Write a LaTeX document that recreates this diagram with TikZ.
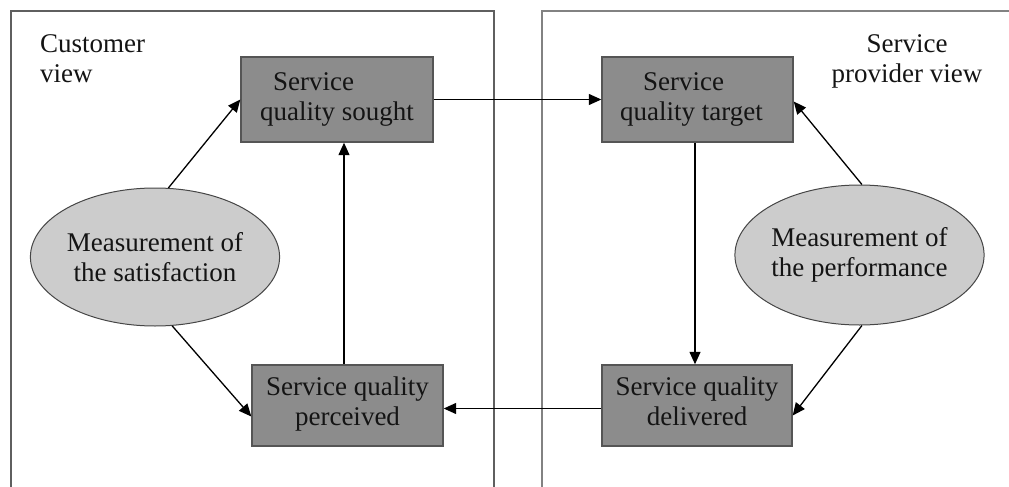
\documentclass[tikz,border=0pt]{standalone}
\usepackage{fontspec}
\setmainfont{Liberation Serif}
\usetikzlibrary{arrows.meta,shapes.geometric}
\definecolor{boxfill}{RGB}{140,140,140}
\definecolor{boxline}{RGB}{85,85,85}
\definecolor{ellfill}{RGB}{204,204,204}
\definecolor{ellline}{RGB}{70,70,70}
\definecolor{txt}{RGB}{20,20,20}
\begin{document}
\begin{tikzpicture}[x=1pt,y=-1pt,
  every node/.style={font=\fontsize{27}{30}\selectfont, text=txt},
  qbox/.style={draw=boxline, line width=1.4pt, fill=boxfill, inner sep=0pt},
  mell/.style={ellipse, draw=ellline, line width=1pt, fill=ellfill, inner sep=0pt, align=center},
  arr/.style={line width=1.3pt, -{Triangle[length=12.5pt,width=11pt]}},
  panel/.style={line width=1.2pt}]
\useasboundingbox (0,0) rectangle (1009,487);
% panels
\draw[panel, draw={rgb,255:red,95;green,95;blue,95}] (11,487) -- (11,11) -- (494,11) -- (494,487);
\draw[panel, draw={rgb,255:red,130;green,130;blue,130}] (542,487) -- (542,11) -- (1012,11);
% panel labels
\node[anchor=north west, inner sep=0pt, align=left] (cust) at (40,34.5) {Customer\\view};
\node[anchor=north, inner sep=0pt, align=center] (prov) at (907,34.5) {Service\\provider view};
% boxes
\node[qbox, minimum width=192pt, minimum height=85pt, align=left] (sought) at (337,99.5)
  {\hspace*{13pt}Service\\quality sought};
\node[qbox, minimum width=191pt, minimum height=85pt, align=left] (target) at (697.5,99.5)
  {\hspace*{23pt}Service\\quality target\hspace*{12pt}};
\node[qbox, minimum width=191pt, minimum height=81pt, align=center] (perceived) at (347.5,405.5)
  {Service quality\\perceived\rule[-8pt]{0pt}{0pt}};
\node[qbox, minimum width=190pt, minimum height=81pt, align=center] (delivered) at (697,405.5)
  {Service quality\\delivered\rule[-8pt]{0pt}{0pt}};
% ellipses
\node[mell, minimum width=214pt, minimum height=138pt] (lell) at (155,257)
  {Measurement of\\the satisfaction};
\node[mell, minimum width=235pt, minimum height=140pt] (rell) at (859.5,255)
  {Measurement of\\the performance};
% connectors
\draw[arr] (lell.79) -- (sought.west);
\draw[arr] (lell.-76) -- ([yshift=-11pt]perceived.west);
\draw[arr] (perceived.north -| 344,0) -- (sought.south -| 344,0);
\draw[arr] (sought.east) -- (target.west);
\draw[arr] (target.south -| 695,0) -- (delivered.north -| 695,0);
\draw[arr] ([yshift=-3pt]delivered.west) -- ([yshift=-3pt]perceived.east);
\draw[arr] (rell.88) -- ([yshift=-2pt]target.east);
\draw[arr] (rell.-88) -- ([yshift=-10pt]delivered.east);
\end{tikzpicture}
\end{document}
